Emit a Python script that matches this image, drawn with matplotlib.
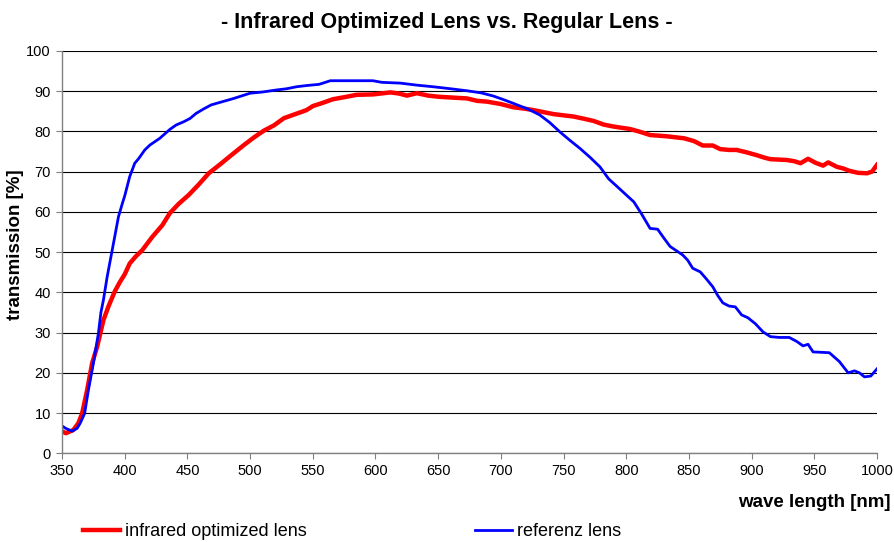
import matplotlib
matplotlib.use("Agg")
import matplotlib.pyplot as plt
import numpy as np

plt.rcParams['font.family'] = ['Liberation Sans', 'DejaVu Sans']

# infrared optimized lens (wavelength nm, transmission %)
ir_wl = [350, 353, 359, 363, 366, 370, 374, 378, 383, 387, 392, 396, 400, 404, 409, 414,
         422, 430, 436, 443, 451, 459, 467, 476, 485, 495, 503, 511, 519, 527, 536, 545,
         550, 557, 566, 575, 585, 598, 612, 619, 625, 633, 642, 651, 662, 673, 681, 689,
         700, 710, 718, 726, 734, 742, 750, 758, 767, 774, 782, 790, 803, 811, 819, 832,
         846, 854, 861, 869, 875, 882, 888, 896, 904, 910, 915, 928, 934, 939, 945, 951,
         957, 961, 968, 973, 978, 985, 992, 996, 1000]
ir_tr = [5.5, 5.0, 5.8, 7.5, 9.9, 15.7, 22.4, 26.5, 33.1, 36.5, 40.2, 42.5, 44.5, 47.2, 49.0, 50.5,
         53.8, 56.7, 59.7, 62.0, 64.2, 66.8, 69.6, 71.8, 74.1, 76.6, 78.5, 80.2, 81.5, 83.3, 84.3, 85.3,
         86.3, 87.0, 88.0, 88.5, 89.1, 89.2, 89.7, 89.4, 88.9, 89.5, 88.9, 88.6, 88.4, 88.2, 87.6, 87.4,
         86.8, 86.0, 85.7, 85.3, 84.8, 84.3, 84.0, 83.7, 83.1, 82.6, 81.7, 81.2, 80.6, 79.9, 79.1, 78.8,
         78.3, 77.6, 76.5, 76.5, 75.6, 75.4, 75.4, 74.8, 74.1, 73.5, 73.1, 72.9, 72.6, 72.1, 73.2, 72.2,
         71.5, 72.3, 71.2, 70.8, 70.2, 69.7, 69.6, 70.0, 71.7]

# referenz lens
ref_wl = [350, 353, 358, 362, 364.5, 368, 371, 375, 379, 381, 383, 386, 390, 395, 398, 400,
          404, 408, 411, 416, 420, 428, 436, 441, 447, 452, 457, 463, 469, 478, 487, 493,
          500, 510, 521, 529, 537, 545, 555, 564, 575, 590, 598, 605, 620, 633, 646, 660,
          673, 684, 694, 703, 713, 722, 731, 739, 747, 755, 763, 771, 779, 786, 792, 799,
          806, 812, 819, 825, 830, 835, 845, 849, 853, 859, 864, 869, 873, 877, 882, 887,
          892, 897, 903, 909, 915, 922, 930, 936, 941, 945, 949, 956, 962, 966, 970, 977,
          982, 986, 990, 995, 1000]
ref_tr = [6.8, 6.2, 5.5, 6.2, 7.5, 9.9, 15.7, 22.4, 29.8, 35.0, 38.1, 43.9, 50.5, 58.8, 62.0, 64.0,
          68.8, 72.1, 73.2, 75.4, 76.6, 78.3, 80.5, 81.6, 82.4, 83.2, 84.5, 85.6, 86.6, 87.4, 88.2, 88.8,
          89.5, 89.8, 90.3, 90.6, 91.1, 91.4, 91.7, 92.6, 92.6, 92.6, 92.6, 92.2, 92.0, 91.5, 91.1, 90.6,
          90.1, 89.6, 88.8, 87.8, 86.6, 85.5, 84.1, 82.2, 79.9, 77.8, 75.8, 73.6, 71.2, 68.2, 66.5, 64.5,
          62.5, 59.6, 55.9, 55.7, 53.5, 51.4, 49.3, 48.0, 46.0, 45.1, 43.3, 41.4, 39.2, 37.4, 36.6, 36.4,
          34.4, 33.7, 32.2, 30.2, 29.0, 28.8, 28.8, 27.8, 26.7, 27.1, 25.2, 25.1, 25.0, 23.9, 22.8, 20.0,
          20.5, 20.0, 19.0, 19.2, 21.0]

x_ticks = list(range(350, 1001, 50))
y_ticks = list(range(0, 101, 10))

fig = plt.figure(figsize=(8.94, 5.42), dpi=100)
ax = fig.add_axes([0.0694, 0.1636, 0.9116, 0.7424])

ax.plot(ir_wl, ir_tr, color='#ff0000', lw=3.2, label='infrared optimized lens', solid_joinstyle='round')
ax.plot(ref_wl, ref_tr, color='#0000ff', lw=2.0, label='referenz lens', solid_joinstyle='round')

ax.set_xlim(350, 1000)
ax.set_ylim(0, 100)
ax.set_xticks(x_ticks)
ax.set_yticks(y_ticks)
ax.yaxis.grid(True, color='black', lw=0.8)
ax.set_axisbelow(True)
for s in ['top', 'right']:
    ax.spines[s].set_visible(False)
for s in ['left', 'bottom']:
    ax.spines[s].set_color('#808080')
    ax.spines[s].set_linewidth(1.0)
ax.tick_params(direction='out', length=4, color='#808080', labelsize=10.5, pad=4)

fig.text(0.5, 0.958, '- Infrared Optimized Lens vs. Regular Lens -', ha='center', va='center',
         fontsize=15.5, fontweight='bold')
fig.text(0.017, 0.548, 'transmission [%]', rotation=90, ha='center', va='center',
         fontsize=13.5, fontweight='bold')
fig.text(0.996, 0.072, 'wave length [nm]', ha='right', va='center', fontsize=13.5, fontweight='bold')

fig.legend(loc='center left', bbox_to_anchor=(0.093, 0.019), ncol=2, frameon=False,
           fontsize=13, handlelength=2.05, handletextpad=0.28, columnspacing=9.3,
           borderaxespad=0, borderpad=0)

fig.savefig('out.png', dpi=100)
